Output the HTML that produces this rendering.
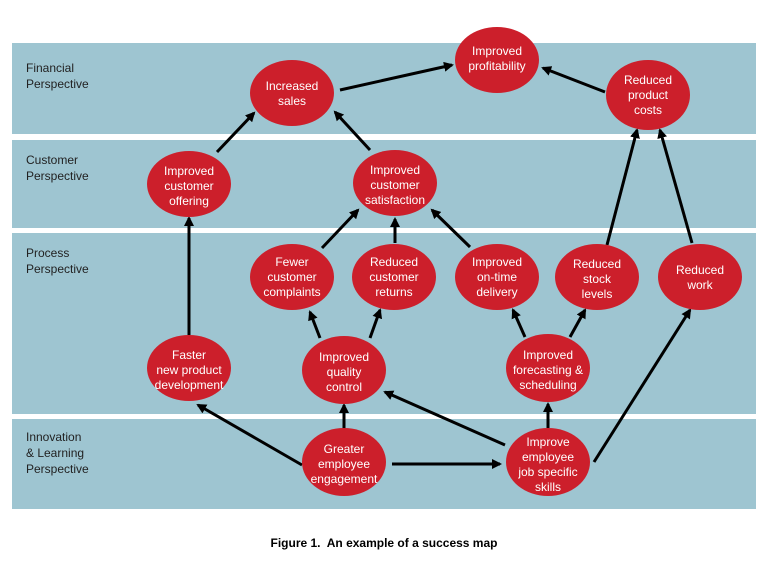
<!DOCTYPE html>
<html><head><meta charset="utf-8"><style>
html,body{margin:0;padding:0;background:#fff;}
svg text{font-family:"Liberation Sans",Arial,sans-serif;}
</style></head><body>
<svg width="765" height="574" viewBox="0 0 765 574" xmlns="http://www.w3.org/2000/svg">
<defs>
<marker id="a" markerWidth="10" markerHeight="10" refX="8" refY="5" orient="auto" markerUnits="userSpaceOnUse">
<path d="M0,0 L10,5 L0,10 z" fill="#000"/></marker>
</defs>
<rect x="12" y="43" width="744" height="91" fill="#9ec5d1"/>
<rect x="12" y="140" width="744" height="88" fill="#9ec5d1"/>
<rect x="12" y="233" width="744" height="181" fill="#9ec5d1"/>
<rect x="12" y="419" width="744" height="90" fill="#9ec5d1"/>
<g font-size="12" fill="#222">
<text x="26" y="72">Financial</text><text x="26" y="88">Perspective</text>
<text x="26" y="164">Customer</text><text x="26" y="180">Perspective</text>
<text x="26" y="257">Process</text><text x="26" y="273">Perspective</text>
<text x="26" y="441">Innovation</text><text x="26" y="457">&amp; Learning</text><text x="26" y="473">Perspective</text>
</g>
<g stroke="#000" stroke-width="3" marker-end="url(#a)">
<line x1="340" y1="90" x2="452" y2="65"/>
<line x1="605" y1="92" x2="543" y2="68"/>
<line x1="217" y1="152" x2="254" y2="113"/>
<line x1="370" y1="150" x2="335" y2="112"/>
<line x1="189" y1="335" x2="189" y2="218"/>
<line x1="322" y1="248" x2="358" y2="210"/>
<line x1="395" y1="243" x2="395" y2="219"/>
<line x1="470" y1="247" x2="432" y2="210"/>
<line x1="607" y1="245" x2="637" y2="130"/>
<line x1="692" y1="243" x2="660" y2="130"/>
<line x1="320" y1="338" x2="310" y2="312"/>
<line x1="370" y1="338" x2="380" y2="310"/>
<line x1="525" y1="337" x2="513" y2="310"/>
<line x1="570" y1="337" x2="585" y2="310"/>
<line x1="302" y1="465" x2="198" y2="405"/>
<line x1="344" y1="430" x2="344" y2="405"/>
<line x1="392" y1="464" x2="500" y2="464"/>
<line x1="505" y1="445" x2="385" y2="392"/>
<line x1="548" y1="428" x2="548" y2="404"/>
<line x1="594" y1="462" x2="690" y2="310"/>
</g>
<g fill="#cc1f2b">
<ellipse cx="497" cy="60" rx="42" ry="33"/>
<ellipse cx="292" cy="93" rx="42" ry="33"/>
<ellipse cx="648" cy="95" rx="42" ry="35"/>
<ellipse cx="189" cy="184" rx="42" ry="33"/>
<ellipse cx="395" cy="183" rx="42" ry="33"/>
<ellipse cx="292" cy="277" rx="42" ry="33"/>
<ellipse cx="394" cy="277" rx="42" ry="33"/>
<ellipse cx="497" cy="277" rx="42" ry="33"/>
<ellipse cx="597" cy="277" rx="42" ry="33"/>
<ellipse cx="700" cy="277" rx="42" ry="33"/>
<ellipse cx="189" cy="368" rx="42" ry="33"/>
<ellipse cx="344" cy="370" rx="42" ry="34"/>
<ellipse cx="548" cy="368" rx="42" ry="34"/>
<ellipse cx="344" cy="462" rx="42" ry="34"/>
<ellipse cx="548" cy="462" rx="42" ry="34"/>
</g>
<g font-size="12" fill="#fff" text-anchor="middle">
<text x="497" y="55">Improved</text><text x="497" y="70">profitability</text>
<text x="292" y="90">Increased</text><text x="292" y="105">sales</text>
<text x="648" y="84">Reduced</text><text x="648" y="99">product</text><text x="648" y="114">costs</text>
<text x="189" y="175">Improved</text><text x="189" y="190">customer</text><text x="189" y="205">offering</text>
<text x="395" y="174">Improved</text><text x="395" y="189">customer</text><text x="395" y="204">satisfaction</text>
<text x="292" y="266">Fewer</text><text x="292" y="281">customer</text><text x="292" y="296">complaints</text>
<text x="394" y="266">Reduced</text><text x="394" y="281">customer</text><text x="394" y="296">returns</text>
<text x="497" y="266">Improved</text><text x="497" y="281">on-time</text><text x="497" y="296">delivery</text>
<text x="597" y="268">Reduced</text><text x="597" y="283">stock</text><text x="597" y="298">levels</text>
<text x="700" y="274">Reduced</text><text x="700" y="289">work</text>
<text x="189" y="359">Faster</text><text x="189" y="374">new product</text><text x="189" y="389">development</text>
<text x="344" y="361">Improved</text><text x="344" y="376">quality</text><text x="344" y="391">control</text>
<text x="548" y="359">Improved</text><text x="548" y="374">forecasting &amp;</text><text x="548" y="389">scheduling</text>
<text x="344" y="453">Greater</text><text x="344" y="468">employee</text><text x="344" y="483">engagement</text>
<text x="548" y="446">Improve</text><text x="548" y="461">employee</text><text x="548" y="476">job specific</text><text x="548" y="491">skills</text>
</g>
<text x="384" y="547" font-size="12" font-weight="bold" text-anchor="middle" fill="#000" xml:space="preserve">Figure 1.  An example of a success map</text>
</svg>
</body></html>
